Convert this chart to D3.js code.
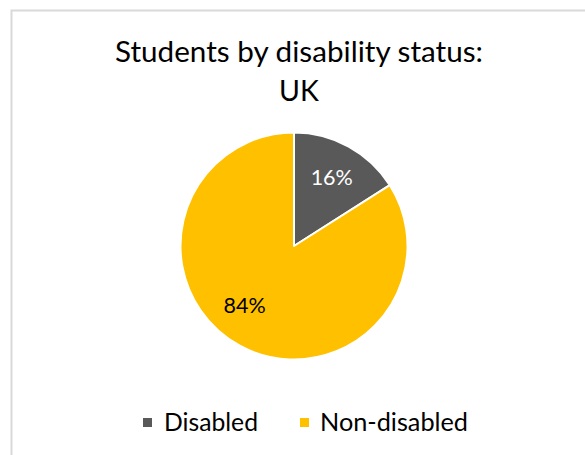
<!DOCTYPE html>
<html><head><meta charset="utf-8">
<script src="https://cdn.jsdelivr.net/npm/d3@7"></script>
<style>html,body{margin:0;padding:0;background:#fff;}svg{display:block;}</style>
</head><body>
<svg id="c" width="585" height="455"></svg>
<script>
const title = ["Students by disability status:", "UK"];
const categories = ["Disabled", "Non-disabled"];
const values = [16, 84];
const colors = ["#595959", "#FFC000"];
const labelColors = ["#ffffff", "#000000"];

const FONT = "Lato, 'Open Sans', sans-serif";
const svg = d3.select("#c");

// chart border
svg.append("rect").attr("x", 11.5).attr("y", 10.5).attr("width", 600).attr("height", 500)
  .attr("fill", "#fff").attr("stroke", "#d9d9d9").attr("stroke-width", 2);

function fitText(sel, w) {
  sel.attr("textLength", w).attr("lengthAdjust", "spacingAndGlyphs");
}
// title
const t1 = svg.append("text").attr("x", 299).attr("y", 62).attr("text-anchor", "middle")
  .attr("font-family", FONT).attr("font-size", 28.5).attr("fill", "#000").text(title[0]);
fitText(t1, 368);
svg.append("text").attr("x", 299).attr("y", 101).attr("text-anchor", "middle")
  .attr("font-family", FONT).attr("font-size", 28.5).attr("fill", "#000").text(title[1]);

// pie
const cx = 294, cy = 246, R = 113.5;
const pie = d3.pie().sort(null).value(d => d);
const arcs = pie(values);
const arc = d3.arc().innerRadius(0).outerRadius(R);
const g = svg.append("g").attr("transform", `translate(${cx},${cy})`);
g.selectAll("path").data(arcs).enter().append("path")
  .attr("d", arc).attr("fill", (d, i) => colors[i])
  .attr("stroke", "#fff").attr("stroke-width", 2).attr("stroke-linejoin", "round");

// labels (best-fit placement)
const labelR = [0.69 * R, 0.68 * R];
const angleShift = [0, 0.19];
const total = d3.sum(values);
g.selectAll("text.lbl").data(arcs).enter().append("text").attr("class", "lbl")
  .attr("transform", (d, i) => {
    const a = (d.startAngle + d.endAngle) / 2 + angleShift[i];
    return `translate(${Math.sin(a) * labelR[i]},${-Math.cos(a) * labelR[i]})`;
  })
  .attr("text-anchor", "middle").attr("dy", "0.35em")
  .attr("font-family", FONT).attr("font-size", 21.5)
  .attr("fill", (d, i) => labelColors[i])
  .text(d => Math.round(d.data / total * 100) + "%");

// legend
const legX = [143, 300], legTextX = [164, 320], legW = [94, 148];
const leg = svg.selectAll("g.leg").data(categories).enter().append("g").attr("class", "leg");
leg.append("rect").attr("x", (d, i) => legX[i]).attr("y", 418).attr("width", 9).attr("height", 9)
  .attr("fill", (d, i) => colors[i]);
leg.append("text").attr("x", (d, i) => legTextX[i]).attr("y", 431)
  .attr("font-family", FONT).attr("font-size", 25).attr("fill", "#000")
  .attr("textLength", (d, i) => legW[i]).attr("lengthAdjust", "spacingAndGlyphs")
  .text(d => d);
</script>
</body></html>
